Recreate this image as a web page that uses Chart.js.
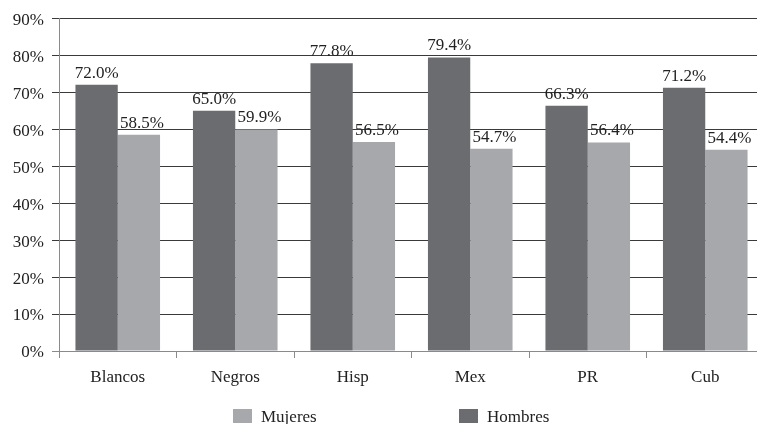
<!DOCTYPE html>
<html>
<head>
<meta charset="utf-8">
<script src="https://cdn.jsdelivr.net/npm/chart.js@4/dist/chart.umd.min.js"></script>
<style>
  html, body { margin: 0; padding: 0; background: #fff; overflow: hidden; }
  #wrap { position: relative; width: 764px; height: 424px; }
  .legend-item { position: absolute; top: 407px; font-family: "Liberation Serif", serif; font-size: 17px; color: #222; line-height: 20px; }
  .legend-item span.box { position: absolute; left: 0; top: 2px; width: 19px; height: 14px; }
  .legend-item span.txt { position: absolute; left: 28px; top: 0; white-space: nowrap; }
</style>
</head>
<body>
<div id="wrap">
  <canvas id="chart" width="764" height="424"></canvas>
</div>
<script>
const categories = ['Blancos', 'Negros', 'Hisp', 'Mex', 'PR', 'Cub'];
const hombres = [72.0, 65.0, 77.8, 79.4, 66.3, 71.2];
const mujeres = [58.5, 59.9, 56.5, 54.7, 56.4, 54.4];
const yTicks = [0, 10, 20, 30, 40, 50, 60, 70, 80, 90];

const colors = {
  hombres: '#6b6c70',
  mujeres: '#a7a8ab',
  grid: '#3a3a3a',
  axis: '#8a8a8a',
  text: '#222'
};

const fontFamily = '"Liberation Serif", serif';

// value labels above each bar
const barLabels = {
  id: 'barLabels',
  afterDatasetsDraw(chart) {
    const ctx = chart.ctx;
    ctx.save();
    ctx.font = '17px ' + fontFamily;
    ctx.fillStyle = colors.text;
    ctx.textAlign = 'center';
    ctx.textBaseline = 'bottom';
    chart.data.datasets.forEach((ds, i) => {
      chart.getDatasetMeta(i).data.forEach((bar, j) => {
        ctx.fillText(ds.data[j].toFixed(1) + '%', bar.x + (i === 1 ? 3 : 0), bar.y - 3);
      });
    });
    ctx.restore();
  }
};

const chart = new Chart(document.getElementById('chart'), {
  type: 'bar',
  data: {
    labels: categories,
    datasets: [{
      label: 'Hombres',
      data: hombres,
      backgroundColor: colors.hombres
    }, {
      label: 'Mujeres',
      data: mujeres,
      backgroundColor: colors.mujeres
    }]
  },
  options: {
    responsive: false,
    animation: false,
    layout: { padding: { top: 17, bottom: 33, left: 0, right: 0 } },
    plugins: {
      legend: { display: false },
      tooltip: { enabled: false }
    },
    datasets: {
      bar: { categoryPercentage: 0.72, barPercentage: 1 }
    },
    scales: {
      x: {
        grid: {
          drawOnChartArea: false,
          drawTicks: true,
          tickLength: 7,
          color: colors.axis,
          offset: true
        },
        border: { color: colors.axis, width: 1 },
        ticks: {
          color: colors.text,
          font: { family: fontFamily, size: 17 },
          padding: 9
        },
        afterFit(scale) { scale.height = 40; }
      },
      y: {
        min: 0,
        max: 90,
        afterBuildTicks(scale) { scale.ticks = yTicks.map(v => ({ value: v })); },
        grid: {
          color: ctx => ctx.tick && ctx.tick.value === 0 ? colors.axis : colors.grid,
          tickLength: 7,
          lineWidth: 1
        },
        border: { color: colors.axis, width: 1 },
        ticks: {
          color: colors.text,
          font: { family: fontFamily, size: 17 },
          padding: 8,
          labelOffset: 2,
          callback: v => v + '%'
        },
        afterFit(scale) { scale.width = 59; }
      }
    }
  },
  plugins: [barLabels]
});

// legend (Mujeres first, as in the original)
const legendItems = [
  { label: 'Mujeres', color: colors.mujeres, left: 233 },
  { label: 'Hombres', color: colors.hombres, left: 459 }
];
const wrap = document.getElementById('wrap');
legendItems.forEach(item => {
  const el = document.createElement('div');
  el.className = 'legend-item';
  el.style.left = item.left + 'px';
  el.innerHTML = '<span class="box" style="background:' + item.color + '"></span><span class="txt">' + item.label + '</span>';
  wrap.appendChild(el);
});
</script>
</body>
</html>
